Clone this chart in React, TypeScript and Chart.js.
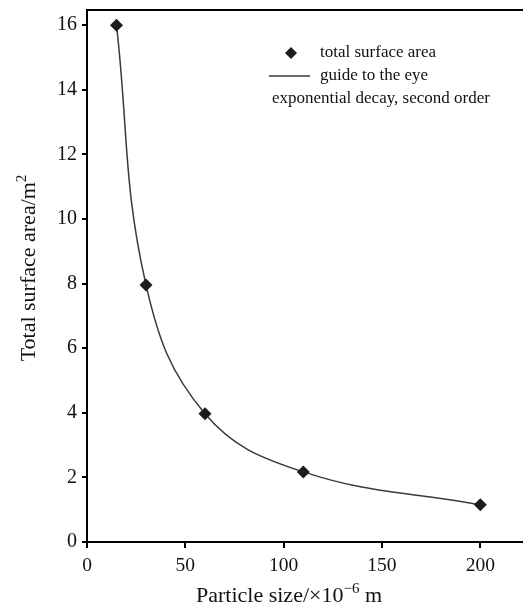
import { useEffect, useRef } from "react";
import { Chart, registerables } from "chart.js";

Chart.register(...registerables);

// Measured particle sizes (×10⁻⁶ m) and the total surface area (m²) of each
const particleSize = [15, 30, 60, 110, 200];
const surfaceArea = [16.0, 7.96, 3.97, 2.17, 1.15];

const xTickValues = [0, 50, 100, 150, 200];
const yTickValues = [0, 2, 4, 6, 8, 10, 12, 14, 16];

const legendLabels = ["total surface area", "guide to the eye", "exponential decay, second order"];

const xTitleParts = [
  { text: "Particle size/×10", sup: false },
  { text: "−6", sup: true },
  { text: " m", sup: false },
];
const yTitleParts = [
  { text: "Total surface area/m", sup: false },
  { text: "2", sup: true },
];

const SERIF = '"Liberation Serif", "Times New Roman", serif';
const INK = "#111111";
const MARK = "#1c1c1c";
const CURVE = "#3a3a3a";

type Part = { text: string; sup: boolean };

function drawParts(ctx: CanvasRenderingContext2D, parts: Part[], size: number) {
  const supSize = Math.round(size * 0.68);
  let total = 0;
  const widths = parts.map((p) => {
    ctx.font = `${p.sup ? supSize : size}px ${SERIF}`;
    const w = ctx.measureText(p.text).width;
    total += w;
    return w;
  });
  let x = -total / 2;
  parts.forEach((p, i) => {
    ctx.font = `${p.sup ? supSize : size}px ${SERIF}`;
    ctx.fillText(p.text, x, p.sup ? -size * 0.42 : 0);
    x += widths[i];
  });
}

const decorPlugin = {
  id: "decor",
  afterDraw(chart: any) {
    const { ctx, chartArea } = chart;
    const { left, top, right, bottom } = chartArea;
    ctx.save();

    // top frame line
    ctx.strokeStyle = "#000";
    ctx.lineWidth = 2;
    ctx.beginPath();
    ctx.moveTo(left - 1, top);
    ctx.lineTo(right, top);
    ctx.stroke();

    // axis titles with superscripts
    ctx.fillStyle = INK;
    ctx.textBaseline = "alphabetic";
    ctx.textAlign = "left";
    ctx.save();
    ctx.translate(left + 202, bottom + 60);
    drawParts(ctx, xTitleParts, 22);
    ctx.restore();

    ctx.save();
    ctx.translate(left - 52, (top + bottom) / 2 - 8);
    ctx.rotate(-Math.PI / 2);
    drawParts(ctx, yTitleParts, 22);
    ctx.restore();

    // legend
    ctx.font = `17px ${SERIF}`;
    ctx.textBaseline = "middle";
    const lx = left + 204;
    const ly = top + 43;
    ctx.fillStyle = MARK;
    ctx.beginPath();
    ctx.moveTo(lx, ly - 6);
    ctx.lineTo(lx + 6, ly);
    ctx.lineTo(lx, ly + 6);
    ctx.lineTo(lx - 6, ly);
    ctx.closePath();
    ctx.fill();
    ctx.fillStyle = INK;
    ctx.fillText(legendLabels[0], left + 233, ly);

    ctx.strokeStyle = CURVE;
    ctx.lineWidth = 1.5;
    ctx.beginPath();
    ctx.moveTo(left + 182, ly + 23);
    ctx.lineTo(left + 223, ly + 23);
    ctx.stroke();
    ctx.fillText(legendLabels[1], left + 233, ly + 23);
    ctx.fillText(legendLabels[2], left + 185, ly + 46);

    ctx.restore();
  },
};

function zeroPadding(s: any) {
  s.paddingTop = 0;
  s.paddingBottom = 0;
  s.paddingLeft = 0;
  s.paddingRight = 0;
}

export default function App() {
  const canvasRef = useRef<HTMLCanvasElement | null>(null);

  useEffect(() => {
    const canvas = canvasRef.current;
    if (!canvas) return;
    const points = particleSize.map((x, i) => ({ x, y: surfaceArea[i] }));

    const chart = new Chart(canvas, {
      type: "scatter",
      data: {
        datasets: [
          {
            label: legendLabels[1],
            data: points,
            showLine: true,
            borderColor: CURVE,
            borderWidth: 1.5,
            pointRadius: 0,
            tension: 0.4,
            order: 2,
          },
          {
            label: legendLabels[0],
            data: points,
            showLine: false,
            pointStyle: "rectRot",
            pointRadius: 6.5,
            backgroundColor: MARK,
            borderColor: MARK,
            borderWidth: 0,
            order: 1,
          },
        ],
      },
      options: {
        responsive: false,
        animation: false,
        layout: { autoPadding: false, padding: { top: 10, right: 0, left: 0, bottom: 0 } },
        plugins: {
          legend: { display: false },
          tooltip: { enabled: false },
        },
        scales: {
          x: {
            type: "linear",
            min: 0,
            max: 221.7,
            afterFit: (s: any) => {
              s.height = 66;
              zeroPadding(s);
            },
            afterBuildTicks: (s: any) => {
              s.ticks = xTickValues.map((v) => ({ value: v }));
            },
            border: { display: true, color: "#000", width: 2 },
            grid: { drawOnChartArea: false, drawTicks: true, tickLength: 6, color: "#000", lineWidth: 2 },
            ticks: {
              color: INK,
              font: { family: SERIF, size: 19.5 },
              padding: 6,
              maxRotation: 0,
              autoSkip: false,
            },
          },
          y: {
            type: "linear",
            min: 0,
            max: 16.47,
            afterFit: (s: any) => {
              s.width = 87;
              zeroPadding(s);
            },
            afterBuildTicks: (s: any) => {
              s.ticks = yTickValues.map((v) => ({ value: v }));
            },
            border: { display: true, color: "#000", width: 2 },
            grid: { drawOnChartArea: false, drawTicks: true, tickLength: 5, color: "#000", lineWidth: 2 },
            ticks: {
              color: INK,
              font: { family: SERIF, size: 20 },
              padding: 5,
              autoSkip: false,
            },
          },
        },
      },
      plugins: [decorPlugin],
    } as any);

    return () => chart.destroy();
  }, []);

  return (
    <div style={{ position: "fixed", left: 0, top: 0, width: 523, height: 608, background: "#fff" }}>
      <canvas ref={canvasRef} width={523} height={608} style={{ display: "block" }} />
    </div>
  );
}
